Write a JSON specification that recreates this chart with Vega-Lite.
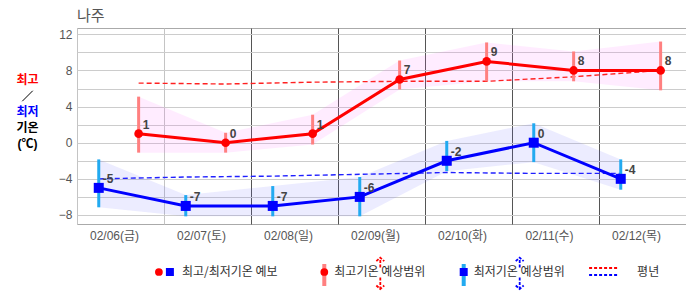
{
  "$schema": "https://vega.github.io/schema/vega-lite/v6.json",
  "width": 609,
  "height": 196,
  "autosize": "none",
  "padding": {"left": 77, "top": 28, "right": 0, "bottom": 71},
  "title": {"text": "나주", "anchor": "start", "frame": "group", "fontSize": 15, "fontWeight": "normal", "color": "#555555", "font": "Noto Sans CJK KR", "offset": 4},
  "config": {
    "view": {"stroke": "#aaaaaa"},
    "font": "Liberation Sans, Noto Sans CJK KR, sans-serif"
  },
  "datasets": {
    "fc": [
      {"tmaxAt": "2026-02-06T17:00:00Z", "tminAt": "2026-02-06T06:00:00Z", "tmax": 1, "maxLo": -1.1, "maxHi": 5.1, "tmin": -5, "minLo": -7.15, "minHi": -1.85, "nmax": 6.6, "nmin": -4.0},
      {"tmaxAt": "2026-02-07T17:00:00Z", "tminAt": "2026-02-07T06:00:00Z", "tmax": 0, "maxLo": -1.1, "maxHi": 1.1, "tmin": -7, "minLo": -8.15, "minHi": -5.8, "nmax": 6.5, "nmin": -3.8},
      {"tmaxAt": "2026-02-08T17:00:00Z", "tminAt": "2026-02-08T06:00:00Z", "tmax": 1, "maxLo": -0.2, "maxHi": 3.1, "tmin": -7, "minLo": -8.15, "minHi": -4.8, "nmax": 6.7, "nmin": -3.7},
      {"tmaxAt": "2026-02-09T17:00:00Z", "tminAt": "2026-02-09T06:00:00Z", "tmax": 7, "maxLo": 5.9, "maxHi": 9.1, "tmin": -6, "minLo": -8.15, "minHi": -3.8, "nmax": 6.8, "nmin": -3.5},
      {"tmaxAt": "2026-02-10T17:00:00Z", "tminAt": "2026-02-10T06:00:00Z", "tmax": 9, "maxLo": 6.8, "maxHi": 11.1, "tmin": -2, "minLo": -3.15, "minHi": 0.2, "nmax": 6.8, "nmin": -3.3},
      {"tmaxAt": "2026-02-11T17:00:00Z", "tminAt": "2026-02-11T06:00:00Z", "tmax": 8, "maxLo": 6.8, "maxHi": 10.1, "tmin": 0, "minLo": -2.15, "minHi": 2.15, "nmax": 7.3, "nmin": -3.4},
      {"tmaxAt": "2026-02-12T17:00:00Z", "tminAt": "2026-02-12T06:00:00Z", "tmax": 8, "maxLo": 5.8, "maxHi": 11.2, "tmin": -4, "minLo": -5.2, "minHi": -1.85, "nmax": 8.0, "nmin": -3.4}
    ],
    "annot": [
      {"t": "최고", "k": "max", "i": 0},
      {"t": "/", "k": "slash", "i": 1},
      {"t": "최저", "k": "min", "i": 2},
      {"t": "기온", "k": "unit", "i": 3},
      {"t": "(℃)", "k": "unit", "i": 4}
    ],
    "legend": [
      {"key": "fc", "label": "최고/최저기온 예보"},
      {"key": "maxr", "label": "최고기온 예상범위"},
      {"key": "minr", "label": "최저기온 예상범위"},
      {"key": "norm", "label": "평년"}
    ]
  },
  "layer": [
    {
      "data": {"name": "fc"},
      "encoding": {
        "y": {"type": "quantitative", "scale": {"domain": [-9, 12.7], "nice": false, "zero": false},
          "axis": {"values": [-8, -6, -4, -2, 0, 2, 4, 6, 8, 10, 12], "labelExpr": "datum.value % 4 == 0 ? datum.label : ''", "grid": true, "gridColor": "#cccccc", "ticks": false, "domain": false, "labelPadding": 5, "title": null, "labelColor": "#555555", "labelFontSize": 12, "labelFont": "Liberation Sans"}}
      },
      "layer": [
        {
          "mark": {"type": "area", "color": "#ff66ff", "opacity": 0.12},
          "encoding": {
            "x": {"field": "tmaxAt", "type": "temporal", "scale": {"type": "utc", "domain": ["2026-02-06T00:00:00Z", "2026-02-13T00:00:00Z"]},
              "axis": {"values": [
                {"year": 2026, "month": 2, "date": 6, "utc": true},
                {"year": 2026, "month": 2, "date": 7, "utc": true},
                {"year": 2026, "month": 2, "date": 8, "utc": true},
                {"year": 2026, "month": 2, "date": 9, "utc": true},
                {"year": 2026, "month": 2, "date": 10, "utc": true},
                {"year": 2026, "month": 2, "date": 11, "utc": true},
                {"year": 2026, "month": 2, "date": 12, "utc": true}],
                "labelExpr": "utcFormat(datum.value, '%m/%d') + '(' + ['일','월','화','수','목','금','토'][utcday(datum.value)] + ')'",
                "labelOffset": 37, "labelAlign": "center", "labelOverlap": false, "labelFlush": false, "labelBound": false,
                "grid": true, "gridColor": {"condition": {"test": "utcdate(datum.value) <= 7", "value": "#c4c4c4"}, "value": "#555555"},
                "ticks": false, "domain": false, "labelPadding": 6, "title": null, "labelColor": "#555555", "labelFontSize": 12}},
            "y": {"field": "maxLo"},
            "y2": {"field": "maxHi"}
          }
        },
        {
          "mark": {"type": "area", "color": "#6666ff", "opacity": 0.12},
          "encoding": {
            "x": {"field": "tminAt", "type": "temporal"},
            "y": {"field": "minLo"},
            "y2": {"field": "minHi"}
          }
        },
        {
          "mark": {"type": "line", "color": "#ff2020", "strokeWidth": 1.4, "strokeDash": [5, 3]},
          "encoding": {"x": {"field": "tmaxAt", "type": "temporal"}, "y": {"field": "nmax"}}
        },
        {
          "mark": {"type": "line", "color": "#2020ff", "strokeWidth": 1.4, "strokeDash": [5, 3]},
          "encoding": {"x": {"field": "tminAt", "type": "temporal"}, "y": {"field": "nmin"}}
        },
        {
          "mark": {"type": "rule", "color": "#ff8080", "strokeWidth": 3},
          "encoding": {"x": {"field": "tmaxAt", "type": "temporal"}, "y": {"field": "maxLo"}, "y2": {"field": "maxHi"}}
        },
        {
          "mark": {"type": "rule", "color": "#22aaf0", "strokeWidth": 3},
          "encoding": {"x": {"field": "tminAt", "type": "temporal"}, "y": {"field": "minLo"}, "y2": {"field": "minHi"}}
        },
        {
          "mark": {"type": "line", "color": "#ff0000", "strokeWidth": 3},
          "encoding": {"x": {"field": "tmaxAt", "type": "temporal"}, "y": {"field": "tmax"}}
        },
        {
          "mark": {"type": "line", "color": "#0000ff", "strokeWidth": 3},
          "encoding": {"x": {"field": "tminAt", "type": "temporal"}, "y": {"field": "tmin"}}
        },
        {
          "mark": {"type": "point", "shape": "circle", "filled": true, "color": "#ff0000", "size": 75, "opacity": 1},
          "encoding": {"x": {"field": "tmaxAt", "type": "temporal"}, "y": {"field": "tmax"}}
        },
        {
          "mark": {"type": "point", "shape": "square", "filled": true, "color": "#0000ff", "size": 100, "opacity": 1},
          "encoding": {"x": {"field": "tminAt", "type": "temporal"}, "y": {"field": "tmin"}}
        },
        {
          "mark": {"type": "text", "align": "left", "baseline": "middle", "dx": 4, "dy": -9, "fontWeight": "bold", "fontSize": 12, "color": "#444444", "font": "Liberation Sans"},
          "encoding": {"x": {"field": "tmaxAt", "type": "temporal"}, "y": {"field": "tmax"}, "text": {"field": "tmax"}}
        },
        {
          "mark": {"type": "text", "align": "left", "baseline": "middle", "dx": 4, "dy": -9, "fontWeight": "bold", "fontSize": 12, "color": "#444444", "font": "Liberation Sans"},
          "encoding": {"x": {"field": "tminAt", "type": "temporal"}, "y": {"field": "tmin"}, "text": {"field": "tmin"}}
        }
      ]
    },
    {
      "data": {"name": "annot"},
      "encoding": {
        "x": {"datum": "c", "type": "nominal", "scale": {"type": "point", "domain": ["c"], "range": [-49.5, -49.5], "padding": 0}, "axis": null},
        "y": {"field": "i", "type": "ordinal", "scale": {"type": "point", "range": [52, 116], "padding": 0}, "axis": null}
      },
      "layer": [
        {
          "transform": [{"filter": "datum.k != 'slash'"}],
          "mark": {"type": "text", "align": "center", "baseline": "middle", "fontWeight": "bold", "fontSize": 12, "font": "Liberation Sans, Noto Sans CJK KR"},
          "encoding": {
            "text": {"field": "t"},
            "color": {"field": "k", "type": "nominal", "scale": {"domain": ["max", "min", "unit"], "range": ["#ff0000", "#0000ff", "#000000"]}, "legend": null}
          }
        },
        {
          "transform": [{"filter": "datum.k == 'slash'"}],
          "mark": {"type": "point", "shape": "M-1,1L1,-1", "filled": false, "stroke": "#000000", "strokeWidth": 1, "size": 110, "opacity": 1}
        }
      ]
    },
    {
      "data": {"name": "legend"},
      "encoding": {
        "x": {"field": "key", "type": "nominal", "scale": {"type": "point", "domain": ["fc", "maxr", "minr", "norm"], "range": [103.9, 555.1], "padding": 0}, "axis": null},
        "y": {"datum": "r", "type": "nominal", "scale": {"type": "point", "domain": ["r"], "range": [244, 244], "padding": 0}, "axis": null}
      },
      "layer": [
        {
          "transform": [{"filter": "datum.key == 'fc'"}],
          "mark": {"type": "text", "align": "left", "baseline": "middle", "fontSize": 12, "color": "#333333", "font": "Noto Sans CJK KR", "xOffset": 1}
        ,
          "encoding": {"text": {"field": "label"}}
        },
        {
          "transform": [{"filter": "datum.key == 'maxr'"}],
          "mark": {"type": "text", "align": "left", "baseline": "middle", "fontSize": 12, "color": "#333333", "font": "Noto Sans CJK KR", "xOffset": 3},
          "encoding": {"text": {"field": "label"}}
        },
        {
          "transform": [{"filter": "datum.key == 'minr'"}],
          "mark": {"type": "text", "align": "left", "baseline": "middle", "fontSize": 12, "color": "#333333", "font": "Noto Sans CJK KR", "xOffset": -8},
          "encoding": {"text": {"field": "label"}}
        },
        {
          "transform": [{"filter": "datum.key == 'norm'"}],
          "mark": {"type": "text", "align": "left", "baseline": "middle", "fontSize": 12, "color": "#333333", "font": "Noto Sans CJK KR", "xOffset": 5},
          "encoding": {"text": {"field": "label"}}
        },
        {
          "transform": [{"filter": "datum.key == 'fc'"}],
          "mark": {"type": "point", "shape": "circle", "filled": true, "color": "#ff0000", "size": 60, "opacity": 1, "xOffset": -22}
        },
        {
          "transform": [{"filter": "datum.key == 'fc'"}],
          "mark": {"type": "point", "shape": "square", "filled": true, "color": "#0000ff", "size": 64, "opacity": 1, "xOffset": -11}
        },
        {
          "transform": [{"filter": "datum.key == 'maxr'"}],
          "mark": {"type": "point", "shape": "M0,-1L0,1", "filled": false, "stroke": "#ff8080", "strokeWidth": 4, "size": 484, "opacity": 1, "xOffset": -7, "yOffset": 3}
        },
        {
          "transform": [{"filter": "datum.key == 'maxr'"}],
          "mark": {"type": "point", "shape": "circle", "filled": true, "color": "#ff0000", "size": 60, "opacity": 1, "xOffset": -7}
        },
        {
          "transform": [{"filter": "datum.key == 'maxr'"}],
          "mark": {"type": "point", "shape": "M0,-0.25L0,-0.8M-0.22,-0.6L0,-0.8L0.22,-0.6M0,0.3L0,0.95M-0.22,0.75L0,0.95L0.22,0.75", "filled": false, "stroke": "#ff0000", "strokeWidth": 1.8, "strokeDash": [3, 1.5], "size": 1296, "opacity": 1, "xOffset": 49}
        },
        {
          "transform": [{"filter": "datum.key == 'minr'"}],
          "mark": {"type": "point", "shape": "M0,-1L0,1", "filled": false, "stroke": "#22aaf0", "strokeWidth": 4, "size": 484, "opacity": 1, "xOffset": -18, "yOffset": 3}
        },
        {
          "transform": [{"filter": "datum.key == 'minr'"}],
          "mark": {"type": "point", "shape": "square", "filled": true, "color": "#0000ff", "size": 64, "opacity": 1, "xOffset": -18}
        },
        {
          "transform": [{"filter": "datum.key == 'minr'"}],
          "mark": {"type": "point", "shape": "M0,-0.25L0,-0.8M-0.22,-0.6L0,-0.8L0.22,-0.6M0,0.3L0,0.95M-0.22,0.75L0,0.95L0.22,0.75", "filled": false, "stroke": "#0000ff", "strokeWidth": 1.8, "strokeDash": [3, 1.5], "size": 1296, "opacity": 1, "xOffset": 38}
        },
        {
          "transform": [{"filter": "datum.key == 'norm'"}],
          "mark": {"type": "point", "shape": "M-1,0L1,0", "filled": false, "stroke": "#ff0000", "strokeWidth": 2, "strokeDash": [3, 2], "size": 784, "opacity": 1, "xOffset": -29, "yOffset": -4}
        },
        {
          "transform": [{"filter": "datum.key == 'norm'"}],
          "mark": {"type": "point", "shape": "M-1,0L1,0", "filled": false, "stroke": "#0000ff", "strokeWidth": 2, "strokeDash": [3, 2], "size": 784, "opacity": 1, "xOffset": -29, "yOffset": 3}
        }
      ]
    }
  ],
  "resolve": {"scale": {"x": "independent", "y": "independent", "color": "independent"}}
}
